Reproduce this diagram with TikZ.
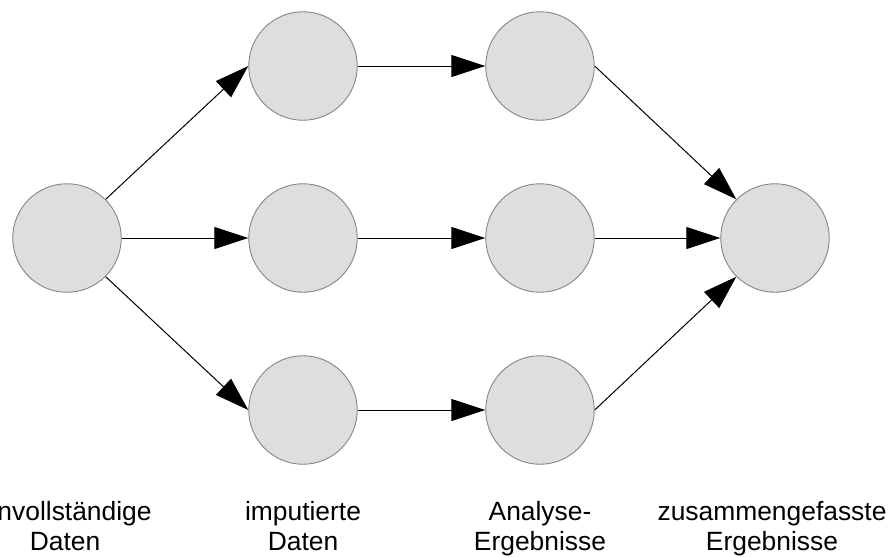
\documentclass[tikz,border=0pt]{standalone}
\usepackage{fontspec}
\setmainfont{Liberation Sans}
\usetikzlibrary{arrows.meta}
\begin{document}
\begin{tikzpicture}[x=1pt,y=1pt,
  stage/.style={circle,draw=black!48,fill=black!13,line width=0.9pt,minimum size=108.5pt,inner sep=0pt},
  flow/.style={draw=black,line width=1pt,-{Triangle[length=34pt,width=22pt]}},
  lbl/.style={align=center,font=\fontsize{26.4}{30}\selectfont,anchor=base}]
\useasboundingbox (0,0) rectangle (891,-557);
\node[stage] (a) at (67,-238) {};
\node[stage] (b1) at (303,-66) {};
\node[stage] (b2) at (303,-238) {};
\node[stage] (b3) at (303,-410) {};
\node[stage] (c1) at (540,-66) {};
\node[stage] (c2) at (540,-238) {};
\node[stage] (c3) at (540,-410) {};
\node[stage] (d) at (775,-238) {};
\draw[flow] (a.north east) -- (b1.west);
\draw[flow] (a.east) -- (b2.west);
\draw[flow] (a.south east) -- (b3.west);
\draw[flow] (b1.east) -- (c1.west);
\draw[flow] (b2.east) -- (c2.west);
\draw[flow] (b3.east) -- (c3.west);
\draw[flow] (c1.east) -- (d.north west);
\draw[flow] (c2.east) -- (d.west);
\draw[flow] (c3.east) -- (d.south west);
\node[lbl] (la) at (65,-550) {Unvollständige\\Daten};
\node[lbl] (lb) at (303,-550) {imputierte\\Daten};
\node[lbl] (lc) at (540,-550) {Analyse-\\Ergebnisse};
\node[lbl] (ld) at (772,-550) {zusammengefasste\\Ergebnisse};
\end{tikzpicture}
\end{document}
